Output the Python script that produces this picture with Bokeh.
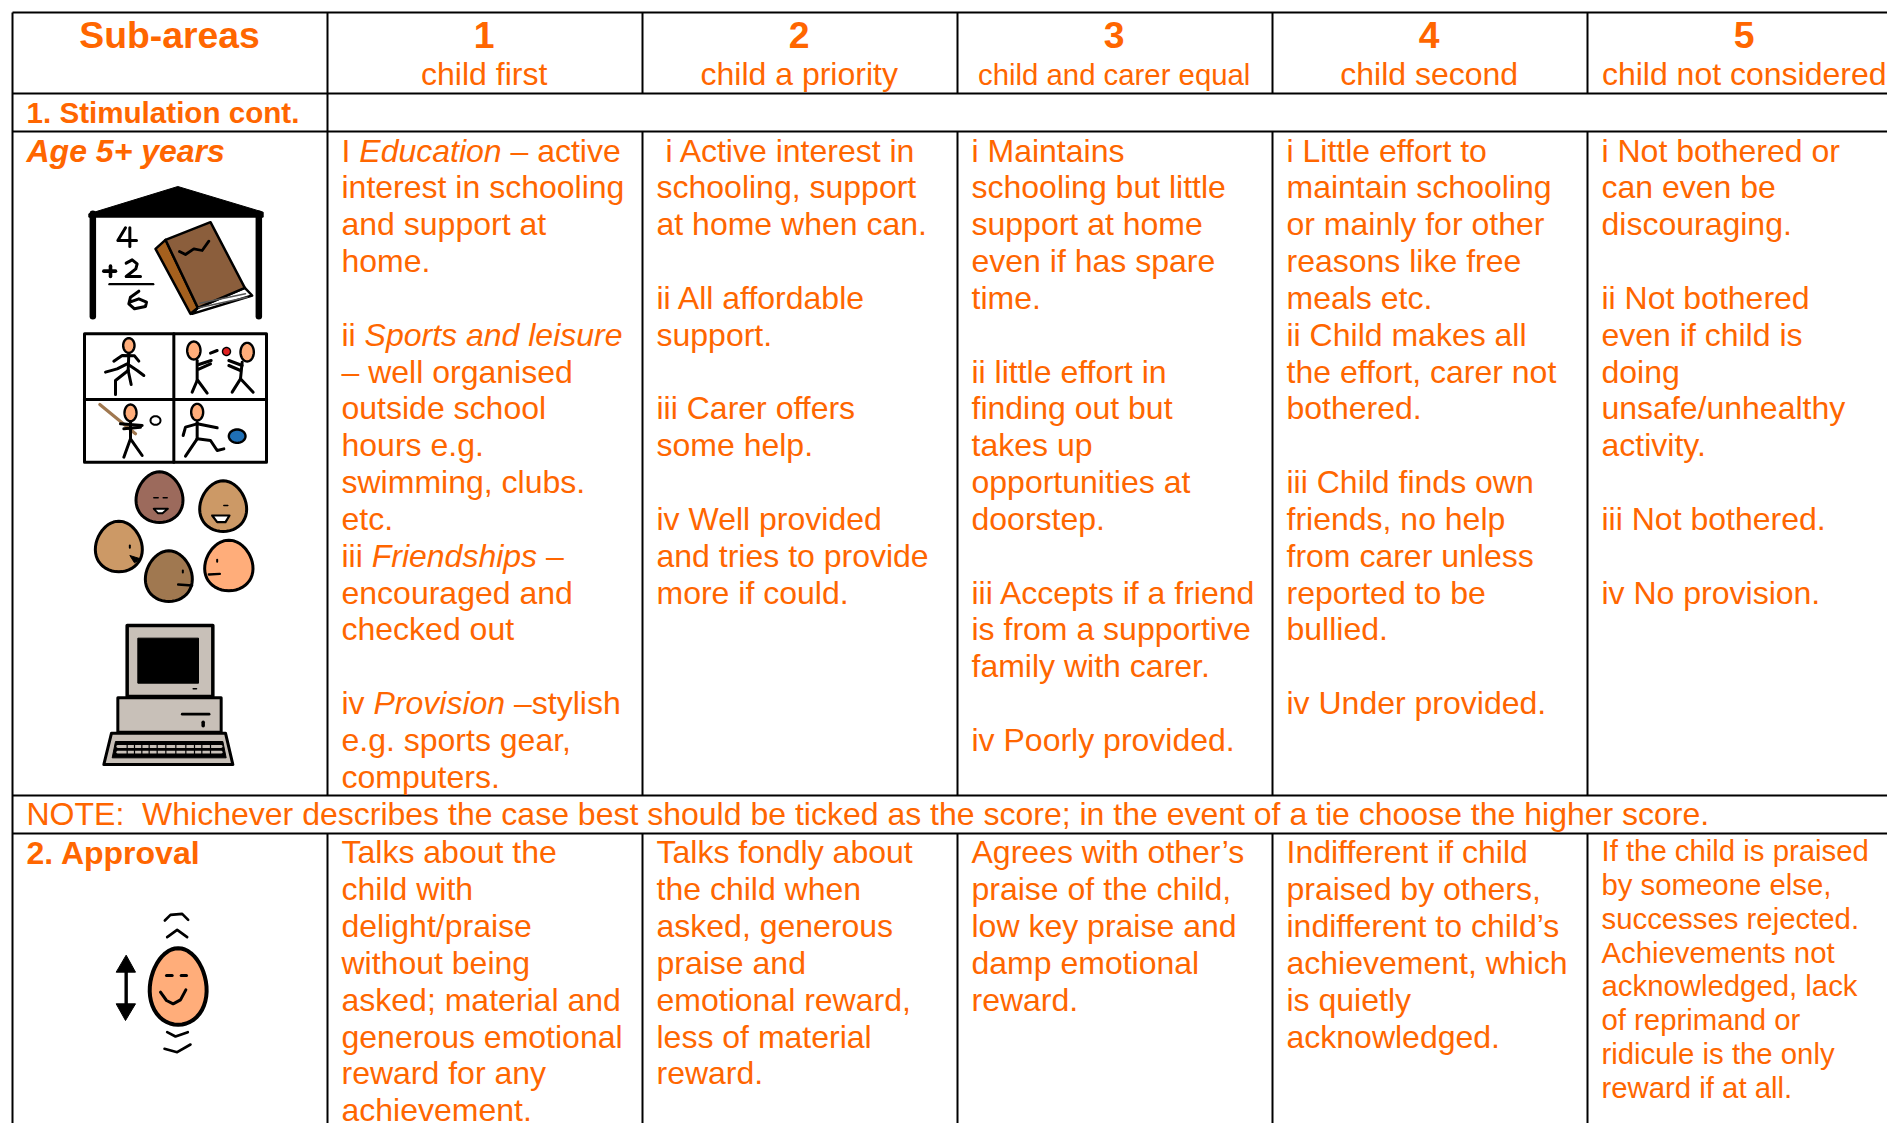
import numpy as np
from bokeh.plotting import figure
from bokeh.models import ColumnDataSource, Range1d
from bokeh.core.properties import value
from bokeh.embed import file_html
from bokeh.resources import INLINE

ORANGE = "#FF6600"
FONT = "Liberation Sans"

# ---- table content ----
SUB_AREAS = "Sub-areas"
SCORES = ["1", "2", "3", "4", "5"]
SCORE_NAMES = ["child first", "child a priority", "child and carer equal", "child second", "child not considered"]
SECTION_1 = "1. Stimulation cont."
AGE = "Age 5+ years"
NOTE_HEAD = "NOTE:"
NOTE_BODY = "Whichever describes the case best should be ticked as the score; in the event of a tie choose the higher score."
SECTION_2 = "2. Approval"

# a line is a string, or a list of (offset em, text, style) runs
STIM_1 = [
    [(0, "I", "normal"), (0.556, "Education", "italic"), (5.281, "– active", "normal")],
    "interest in schooling", "and support at", "home.", "",
    [(0, "ii", "normal"), (0.722, "Sports and leisure", "italic")],
    "– well organised", "outside school", "hours e.g.", "swimming, clubs.", "etc.",
    [(0, "iii", "normal"), (0.944, "Friendships", "italic"), (6.39, "–", "normal")],
    "encouraged and", "checked out", "",
    [(0, "iv", "normal"), (1.0, "Provision", "italic"), (5.39, "–stylish", "normal")],
    "e.g. sports gear,", "computers.",
]
STIM_2 = [[(0.278, "i Active interest in", "normal")], "schooling, support", "at home when can.", "",
          "ii All affordable", "support.", "", "iii Carer offers", "some help.", "",
          "iv Well provided", "and tries to provide", "more if could."]
STIM_3 = ["i Maintains", "schooling but little", "support at home", "even if has spare", "time.", "",
          "ii little effort in", "finding out but", "takes up", "opportunities at", "doorstep.", "",
          "iii Accepts if a friend", "is from a supportive", "family with carer.", "", "iv Poorly provided."]
STIM_4 = ["i Little effort to", "maintain schooling", "or mainly for other", "reasons like free", "meals etc.",
          "ii Child makes all", "the effort, carer not", "bothered.", "", "iii Child finds own",
          "friends, no help", "from carer unless", "reported to be", "bullied.", "", "iv Under provided."]
STIM_5 = ["i Not bothered or", "can even be", "discouraging.", "", "ii Not bothered", "even if child is",
          "doing", "unsafe/unhealthy", "activity.", "", "iii Not bothered.", "", "iv No provision."]
APPR_1 = ["Talks about the", "child with", "delight/praise", "without being", "asked; material and",
          "generous emotional", "reward for any", "achievement."]
APPR_2 = ["Talks fondly about", "the child when", "asked, generous", "praise and", "emotional reward,",
          "less of material", "reward."]
APPR_3 = ["Agrees with other’s", "praise of the child,", "low key praise and", "damp emotional", "reward."]
APPR_4 = ["Indifferent if child", "praised by others,", "indifferent to child’s", "achievement, which",
          "is quietly", "acknowledged."]
APPR_5 = ["If the child is praised", "by someone else,", "successes rejected.", "Achievements not",
          "acknowledged, lack", "of reprimand or", "ridicule is the only", "reward if at all."]

# ---- table geometry ----
COL_X = [12, 327, 642, 957, 1272, 1587]
ROW_Y = [12, 93, 131, 795, 833]
RIGHT, BOTTOM = 1887, 1123
PAD = 14
BODY_PX, SMALL_PX, HEAD_PX = 32, 29.33, 37.33
STEP, SMALL_STEP = 36.83, 33.75
BASE_STIM, BASE_APPR, BASE_APPR_SMALL = 161.6, 863.5, 860.9
BASELINE_SHIFT = 0.36

p = figure(width=1887, height=1123, x_range=Range1d(0, 1887), y_range=Range1d(1123, 0),
           toolbar_location=None, output_backend="svg", min_border=0,
           x_axis_location=None, y_axis_location=None, outline_line_color=None)
p.grid.visible = False
p.background_fill_color = "white"

t = {k: [] for k in ("x", "y", "text", "size", "style", "align")}


def put(x, y, text, size=BODY_PX, style="normal", align="left"):
    for k, v in zip(t, (x, y - BASELINE_SHIFT * size, text, f"{size}px", style, align)):
        t[k].append(v)


def cell(x, base, step, lines, size=BODY_PX):
    for i, line in enumerate(lines):
        y = base + i * step
        if isinstance(line, str):
            if line:
                put(x, y, line, size)
        else:
            for off, txt, st in line:
                put(x + off * size, y, txt, size, st)


put((COL_X[0] + COL_X[1]) / 2 - 0.5, 47.7, SUB_AREAS, HEAD_PX, "bold", "center")
for i, (s, n) in enumerate(zip(SCORES, SCORE_NAMES)):
    cx = (COL_X[i + 1] + (COL_X[i + 2] if i < 4 else 1902)) / 2 - 0.8
    put(cx, 47.7, s, HEAD_PX, "bold", "center")
    put(cx, 85, n, SMALL_PX if i == 2 else BODY_PX, "normal", "center")
put(COL_X[0] + PAD, 123, SECTION_1, 29.6, "bold")
put(COL_X[0] + PAD, 162.3, AGE, BODY_PX, "bold italic")
put(COL_X[0] + PAD, 825, NOTE_HEAD)
put(COL_X[0] + PAD + 115.6, 825, NOTE_BODY)
put(COL_X[0] + PAD, 864, SECTION_2, BODY_PX, "bold")
for i, lines in enumerate((STIM_1, STIM_2, STIM_3, STIM_4, STIM_5)):
    cell(COL_X[i + 1] + PAD, BASE_STIM, STEP, lines)
for i, lines in enumerate((APPR_1, APPR_2, APPR_3, APPR_4)):
    cell(COL_X[i + 1] + PAD, BASE_APPR, STEP, lines)
cell(COL_X[5] + PAD, BASE_APPR_SMALL, SMALL_STEP, APPR_5, SMALL_PX)


# ---- rules ----
hx0 = [COL_X[0]] * len(ROW_Y)
p.segment(hx0, ROW_Y, [RIGHT] * len(ROW_Y), ROW_Y, line_color="black", line_width=2)
p.segment([COL_X[0], COL_X[1]], [ROW_Y[0], ROW_Y[0]], [COL_X[0], COL_X[1]], [BOTTOM, ROW_Y[3]],
          line_color="black", line_width=2)
p.segment([COL_X[1]], [ROW_Y[4]], [COL_X[1]], [BOTTOM], line_color="black", line_width=2)
for x in COL_X[2:]:
    p.segment([x, x, x], [ROW_Y[0], ROW_Y[2], ROW_Y[4]], [x, x, x], [ROW_Y[1], ROW_Y[3], BOTTOM],
              line_color="black", line_width=2)


# ---- pictograms (traced in the coordinates of 3x crops) ----
def Z(ox, oy):
    return (lambda pts: ([ox + a / 3 for a, _ in pts], [oy + b / 3 for _, b in pts]))


def poly(z, pts, fill, line="black", w=1.0):
    xs, ys = z(pts)
    p.patch(xs, ys, fill_color=fill, line_color=line, line_width=w, line_join="round")


def stroke(z, pts, w=2.0, color="black"):
    xs, ys = z(pts)
    p.line(xs, ys, line_color=color, line_width=w, line_join="round", line_cap="round")


ANG = np.linspace(0, 2 * np.pi, 48, endpoint=False)


def egg(z, cx, cy, rx, ry, fill, w=3.0, taper=0.0):
    # taper > 0 narrows the top of the outline, as on the face pictograms
    pts = [(cx + rx * np.cos(a) * (1 + taper * np.sin(a)), cy + ry * np.sin(a)) for a in ANG]
    poly(z, pts, fill, w=w)


SKIN = "#FFAD7A"
BROWN = "#8B5E3C"

z = Z(60, 170)
# school
poly(z, [(85, 130), (352, 48), (608, 125), (608, 140), (85, 140)], "black")
stroke(z, [(97, 130), (97, 437)], 6.5)
stroke(z, [(595, 130), (595, 437)], 6.5)
stroke(z, [(195, 172), (172, 210), (228, 210)], 3)
stroke(z, [(208, 172), (208, 228)], 3)
stroke(z, [(130, 302), (165, 302)], 3.6)
stroke(z, [(150, 287), (150, 318)], 3.6)
stroke(z, [(197, 278), (215, 268), (230, 280), (226, 295), (197, 318), (240, 318)], 3)
stroke(z, [(147, 341), (278, 341)], 2.4)
stroke(z, [(235, 362), (210, 380), (205, 400), (222, 415), (255, 408), (258, 395), (235, 385), (208, 395)], 3)
poly(z, [(412, 412), (553, 352), (575, 375), (395, 430)], "white", w=2.5)
poly(z, [(285, 235), (315, 208), (412, 412), (390, 430)], "#A5601E", w=2.5)
poly(z, [(315, 208), (450, 155), (553, 352), (412, 412)], BROWN, w=2.5)
stroke(z, [(357, 243), (375, 252), (400, 235), (425, 240), (445, 212)], 2.8)
stroke(z, [(418, 398), (555, 370)], 1.5, "#555555")
stroke(z, [(415, 412), (560, 380)], 1.5, "#555555")

# sports grid
poly(z, [(72, 490), (618, 490), (618, 875), (72, 875)], "white", w=3)
stroke(z, [(340, 490), (340, 875)], 3)
stroke(z, [(72, 687), (618, 687)], 3)
for seg in ([(205, 548), (203, 600)], [(160, 572), (185, 555), (222, 556), (235, 572)],
            [(203, 600), (165, 630), (165, 672)], [(203, 600), (212, 642)],
            [(135, 605), (170, 595), (200, 580), (230, 600), (250, 615)]):
    stroke(z, seg, 3)
egg(z, 205, 525, 17, 22, SKIN, 2.4)
for seg in ([(410, 570), (410, 630)], [(410, 630), (395, 665)], [(412, 630), (440, 668)], [(415, 582), (452, 570)],
            [(415, 596), (450, 580)], [(450, 548), (470, 540)], [(545, 575), (540, 625)], [(540, 625), (515, 665)],
            [(540, 625), (578, 665)], [(505, 570), (545, 585)], [(505, 585), (540, 600)]):
    stroke(z, seg, 3)
egg(z, 400, 540, 20, 27, SKIN, 2.4)
egg(z, 560, 545, 20, 28, SKIN, 2.4)
egg(z, 498, 543, 12, 12, "#E02020", 1.4)
stroke(z, [(118, 702), (225, 790)], 3.2, "#A07850")
for seg in ([(210, 755), (210, 805)], [(210, 805), (190, 860)], [(210, 805), (245, 855)], [(180, 760), (245, 765)],
            [(190, 775), (240, 770)]):
    stroke(z, seg, 3)
egg(z, 210, 727, 18, 25, SKIN, 2.4)
egg(z, 285, 750, 15, 13, "white", 2)
for seg in ([(410, 755), (410, 805)], [(368, 795), (375, 770), (410, 760), (470, 772)],
            [(410, 805), (375, 857)], [(410, 805), (450, 810), (470, 840), (490, 835)]):
    stroke(z, seg, 3)
egg(z, 410, 725, 18, 25, SKIN, 2.4)
egg(z, 530, 797, 25, 20, "#1F6FB5", 2.4)

z = Z(60, 460)
# five faces
egg(z, 297, 110, 70, 76, "#9C6A5C", taper=0.12)
stroke(z, [(280, 112), (293, 112)], 1.5)
stroke(z, [(308, 112), (320, 112)], 1.5)
poly(z, [(280, 145), (322, 145), (306, 158), (292, 158)], "white", w=2)
egg(z, 488, 137, 70, 76, "#CC9966", taper=0.12)
stroke(z, [(490, 135), (502, 135)], 1.5)
poly(z, [(455, 165), (507, 165), (495, 185), (470, 185)], "white", w=2.2)
egg(z, 175, 258, 70, 76, "#CC9966", taper=0.12)
stroke(z, [(208, 255), (208, 262)], 2)
poly(z, [(208, 285), (240, 295), (222, 307)], "black")
egg(z, 325, 347, 70, 76, "#A07850", taper=0.12)
stroke(z, [(367, 330), (367, 336)], 2)
stroke(z, [(353, 372), (395, 375)], 2.4)
egg(z, 505, 315, 72, 76, SKIN, taper=0.12)
stroke(z, [(470, 298), (470, 304)], 2)
stroke(z, [(445, 342), (478, 340)], 2.4)

# computer
GREY = "#C8C0B8"
poly(z, [(200, 495), (457, 495), (457, 708), (200, 708)], GREY, w=3.5)
poly(z, [(232, 533), (414, 533), (414, 668), (232, 668)], "black")
stroke(z, [(398, 685), (408, 685)], 1.5)
poly(z, [(172, 712), (482, 712), (482, 815), (172, 815)], GREY, w=3)
stroke(z, [(365, 761), (446, 761)], 2.6)
stroke(z, [(428, 785), (428, 796)], 3.5)
poly(z, [(153, 818), (495, 818), (517, 912), (130, 912)], GREY, w=3)
poly(z, [(165, 843), (487, 843), (497, 892), (155, 892)], "black")
for yy in (858, 875):
    stroke(z, [(172, yy), (482, yy)], 2.8, GREY)
for xx in (200, 222, 244, 266, 290, 316, 346, 376, 402, 424, 450):
    stroke(z, [(xx, 846), (xx, 888)], 1.2, "#000000")

z = Z(60, 890)
# approval face
stroke(z, [(197, 232), (197, 350)], 3.4)
poly(z, [(197, 194), (167, 245), (225, 245)], "black")
poly(z, [(167, 340), (225, 340), (195, 390)], "black")
egg(z, 353, 288, 85, 115, SKIN, 4, taper=0.1)
stroke(z, [(318, 255), (335, 255)], 3)
stroke(z, [(362, 255), (378, 255)], 3)
stroke(z, [(300, 305), (318, 330), (338, 340), (360, 328), (376, 298)], 3)
stroke(z, [(313, 90), (330, 73), (365, 70), (383, 88)], 2.6)
stroke(z, [(320, 140), (350, 118), (380, 140)], 2.6)
stroke(z, [(320, 425), (345, 438), (382, 425)], 2.6)
stroke(z, [(312, 475), (350, 485), (390, 462)], 2.6)

# ---- text on top ----
p.text("x", "y", text="text", source=ColumnDataSource(t), text_font=value(FONT), text_font_size="size",
       text_font_style="style", text_align="align", text_baseline="alphabetic", text_color=ORANGE)

open("out.html", "w").write(file_html(p, INLINE))
